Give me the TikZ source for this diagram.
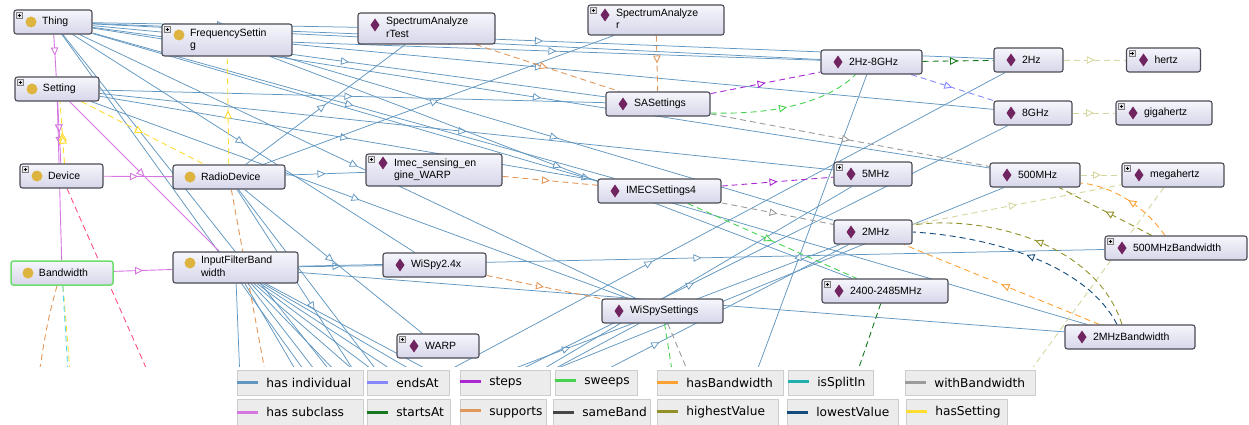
\documentclass[tikz,border=0pt]{standalone}
\usepackage{fontspec}
\setmainfont{Liberation Sans}
\newfontfamily\legfont{DejaVu Sans}
\usepackage{tikz}
\usetikzlibrary{arrows.meta,positioning,decorations.markings,backgrounds}
\definecolor{boxline}{RGB}{75,75,85}
\definecolor{boxtop}{RGB}{246,246,252}
\definecolor{boxbot}{RGB}{214,214,234}
\definecolor{clsgold}{RGB}{222,180,64}
\definecolor{indpurple}{RGB}{112,36,96}
\definecolor{bwgreen}{RGB}{110,220,110}
\definecolor{plusfill}{RGB}{225,225,230}
\definecolor{indblue}{RGB}{96,150,192}
\definecolor{subcol}{RGB}{214,118,224}
\definecolor{endcol}{RGB}{135,135,255}
\definecolor{stepcol}{RGB}{170,40,210}
\definecolor{sweepcol}{RGB}{70,210,80}
\definecolor{hasbwcol}{RGB}{255,160,50}
\definecolor{splitcol}{RGB}{30,175,175}
\definecolor{withbwcol}{RGB}{155,155,155}
\definecolor{startcol}{RGB}{20,120,30}
\definecolor{supcol}{RGB}{225,150,90}
\definecolor{samecol}{RGB}{70,70,70}
\definecolor{highcol}{RGB}{145,145,40}
\definecolor{lowcol}{RGB}{20,75,125}
\definecolor{hassetcol}{RGB}{255,220,50}
\definecolor{unitcol}{RGB}{214,214,160}
\definecolor{pinkcol}{RGB}{255,80,125}
\definecolor{cyancol}{RGB}{80,215,245}
\definecolor{legfill}{RGB}{236,236,236}
\definecolor{legedge}{RGB}{205,205,205}
\newcommand{\nodefont}{\fontsize{10.5}{12.5}\selectfont}
\newcommand{\twoline}[2]{\begin{tabular}[t]{@{}l@{}}#1\\#2\end{tabular}}
\newcommand{\swatch}[1]{\textcolor{#1}{\rule[3pt]{21pt}{3pt}}\hspace{8pt}}
\newcommand{\clsdot}[1]{\fill[clsgold] ([shift={(17pt,#1)}]path picture bounding box.west) circle (5.5pt);}
\newcommand{\inddia}[1]{\fill[indpurple, sharp corners] ([shift={(17pt,#1)}]path picture bounding box.west) ++(0pt,6.5pt) -- ++(4.5pt,-6.5pt) -- ++(-4.5pt,-6.5pt) -- ++(-4.5pt,6.5pt) -- cycle;}
\newcommand{\plusmark}{\draw[draw=gray, fill=plusfill, line width=0.4pt, sharp corners] ([shift={(2.5pt,-2.5pt)}]path picture bounding box.north west) rectangle ++(6pt,-6pt);
  \draw[black, line width=0.5pt] ([shift={(3.8pt,-5.5pt)}]path picture bounding box.north west) -- ++(3.4pt,0pt) ([shift={(5.5pt,-3.8pt)}]path picture bounding box.north west) -- ++(0pt,-3.4pt);}
\tikzstyle{onto} = [rectangle, rounded corners=2.5pt, draw=boxline, line width=1.1pt, top color=boxtop, bottom color=boxbot, inner xsep=0pt, inner ysep=2pt, minimum height=24pt, align=left, font=\nodefont, execute at begin node={\hspace*{28pt}}]
\tikzstyle{legbox} = [rectangle, fill=legfill, draw=legedge, line width=0.6pt, anchor=north west, inner xsep=0pt, inner ysep=0pt, minimum height=25pt, align=left, font=\legfont\fontsize{12.2}{14}\selectfont]
\tikzset{
  cls/.style={onto, path picture={\clsdot{#1}}}, cls/.default=0pt,
  clsx/.style={onto, path picture={\clsdot{#1}\plusmark}}, clsx/.default=0pt,
  ind/.style={onto, path picture={\inddia{#1}}}, ind/.default=0pt,
  indx/.style={onto, path picture={\inddia{#1}\plusmark}}, indx/.default=0pt,
  openarr/.style={postaction={decorate}, decoration={markings, mark=at position #1 with {\arrow{Triangle[length=8pt, width=7.5pt, fill=white]}}}},
  openarr/.default=0.5
}
\tikzstyle{hasind} = [draw=indblue, line width=0.75pt, openarr]
\tikzstyle{subcls} = [draw=subcol, line width=0.9pt, openarr]
\tikzstyle{prop} = [line width=0.9pt, dash pattern=on 6pt off 4pt, openarr]
\tikzstyle{psupports} = [prop, draw=supcol]
\tikzstyle{psteps} = [prop, draw=stepcol]
\tikzstyle{psweeps} = [prop, draw=sweepcol]
\tikzstyle{pstarts} = [prop, draw=startcol]
\tikzstyle{pends} = [prop, draw=endcol]
\tikzstyle{pwithbw} = [prop, draw=withbwcol]
\tikzstyle{phasbw} = [prop, draw=hasbwcol]
\tikzstyle{phigh} = [prop, draw=highcol]
\tikzstyle{plow} = [prop, draw=lowcol]
\tikzstyle{phasset} = [prop, draw=hassetcol]
\tikzstyle{punit} = [prop, draw=unitcol]
\tikzstyle{psplit} = [prop, draw=cyancol]
\tikzstyle{ppink} = [prop, draw=pinkcol]

\begin{document}
\begin{tikzpicture}[x=1pt, y=-1pt]
\useasboundingbox (0,0) rectangle (1249,425);

% Classes
\node (thing) [clsx, text width=78pt] at (53,22) {Thing};
\node (freq) [clsx=5pt, text width=130pt, minimum height=32pt] at (227,40) {\twoline{FrequencySettin}{g}};
\node (setting) [clsx, text width=84pt] at (57,89) {Setting};
\node (device) [clsx, text width=83pt] at (61.5,176) {Device};
\node (radio) [cls, text width=112pt] at (229,177) {RadioDevice};
\node (bandwidth) [cls, draw=bwgreen, line width=1.5pt, text width=102pt] at (62,273) {Bandwidth};
\node (ifbw) [cls=4.5pt, text width=125pt, minimum height=31pt] at (235.5,267.5) {\twoline{InputFilterBand}{width}};

% Individuals
\node (satest) [ind=3.5pt, text width=137pt, minimum height=31pt] at (426.5,28.5) {\twoline{SpectrumAnalyze}{rTest}};
\node (sa) [indx=5pt, text width=136pt, minimum height=30pt] at (656,20) {\twoline{SpectrumAnalyze}{r}};
\node (imecwarp) [indx=7pt, text width=136pt, minimum height=32pt] at (434,170) {\twoline{Imec\_sensing\_en}{gine\_WARP}};
\node (saset) [ind, text width=104pt] at (658,104) {SASettings};
\node (imec4) [ind, text width=123pt] at (659.5,191) {IMECSettings4};
\node (hz2to8) [ind, text width=101pt] at (871.5,62) {2Hz-8GHz};
\node (hz2) [ind, text width=69pt] at (1028.5,60) {2Hz};
\node (hertz) [indx, text width=74pt, right of=hz2, node distance=135pt] {hertz};
\node (ghz8) [ind, text width=78pt] at (1033,113) {8GHz};
\node (gigahertz) [indx, text width=96pt, right of=ghz8, node distance=131pt] {gigahertz};
\node (mhz5) [indx, text width=78pt] at (873,174) {5MHz};
\node (mhz500) [ind, text width=90pt] at (1035,175) {500MHz};
\node (megahertz) [indx, text width=102pt, right of=mhz500, node distance=138pt] {megahertz};
\node (mhz2) [ind, text width=78pt] at (873,232) {2MHz};
\node (bw500) [indx, text width=142pt] at (1176,248) {500MHzBandwidth};
\node (band2400) [indx, text width=126pt] at (885,291) {2400-2485MHz};
\node (bw2) [ind, text width=130pt] at (1130,337) {2MHzBandwidth};
\node (wispy) [ind, text width=103pt] at (434.5,265) {WiSpy2.4x};
\node (wispyset) [ind, text width=121pt] at (662.5,311) {WiSpySettings};
\node (warp) [indx, text width=82pt] at (438,346) {WARP};

\begin{scope}[on background layer]
\clip (0,0) rectangle (1249,366);
% ends below the visible part
\coordinate (thlow1) at (585,760);
\coordinate (thlow2) at (639,760);
\coordinate (radlow0) at (311,620);
\coordinate (radlow1) at (392,430);
\coordinate (radlow2) at (552,600);
\coordinate (devlow) at (266,640);
\coordinate (bwlow1) at (18,520);
\coordinate (bwlow2) at (82,520);
\coordinate (bwlow3) at (77,520);
\coordinate (iflow0) at (244,480);
\coordinate (iflow1) at (360,480);
\coordinate (iflow2) at (400,480);
\coordinate (iflow3) at (440,480);
\coordinate (iflow4) at (480,480);
\coordinate (iflow5) at (520,480);
\coordinate (iflow6) at (560,480);
\coordinate (iflow7) at (600,480);
\coordinate (iflow8) at (635,480);
\coordinate (srcA) at (300,450);
\coordinate (srcB) at (380,440);
\coordinate (srcC) at (440,430);
\coordinate (srcD) at (470,440);
\coordinate (srcR) at (735,430);
\coordinate (swlow) at (696,520);
\coordinate (wblow) at (750,520);
\coordinate (stlow) at (807,520);
\coordinate (unlow) at (849,620);

% has individual
\draw[hasind] (thing) -- (satest);
\draw[hasind] (thing) -- (hz2to8);
\draw[hasind] (thing) -- (hz2);
\draw[hasind] (thing) -- (saset);
\draw[hasind] (thing) -- (ghz8);
\draw[hasind] (thing) -- (mhz500);
\draw[hasind] (thing) -- (imec4);
\draw[hasind] (thing) -- (bw2);
\draw[hasind] (thing) -- (wispy);
\draw[hasind] (thing) -- (wispyset);
\draw[hasind] (thing) -- (thlow1);
\draw[hasind] (thing) -- (thlow2);
\draw[hasind] (setting) -- (saset);
\draw[hasind] (setting) -- (imec4);
\draw[hasind] (setting) -- (mhz5);
\draw[hasind] (setting) -- (wispyset);
\draw[hasind] (freq) -- (hz2to8);
\draw[hasind] (freq) -- (mhz2);
\draw[hasind] (freq) -- (band2400);
\draw[hasind] (radio) -- (satest);
\draw[hasind] (radio) -- (sa);
\draw[hasind] (radio) -- (imecwarp);
\draw[hasind] (radio) -- (warp);
\draw[hasind] (radio) -- (radlow1);
\draw[hasind] (radio) -- (radlow2);
\draw[hasind] (ifbw) -- (wispy);
\draw[hasind] (ifbw) -- (bw500);
\draw[hasind] (ifbw) -- (bw2);
\draw[hasind] (ifbw) -- (iflow0);
\draw[hasind] (ifbw) -- (iflow1);
\draw[hasind] (ifbw) -- (iflow2);
\draw[hasind] (ifbw) -- (iflow3);
\draw[hasind] (ifbw) -- (iflow4);
\draw[hasind] (ifbw) -- (iflow5);
\draw[hasind] (ifbw) -- (iflow6);
\draw[hasind] (ifbw) -- (iflow7);
\draw[hasind] (ifbw) -- (iflow8);
\draw[hasind] (srcA) -- (hz2);
\draw[hasind] (srcA) -- (mhz2);
\draw[hasind] (srcB) -- (ghz8);
\draw[hasind] (srcB) -- (mhz500);
\draw[hasind] (srcC) -- (mhz5);
\draw[hasind] (srcC) -- (wispyset);
\draw[hasind] (srcD) -- (mhz2);
\draw[hasind] (srcR) -- (hz2to8);

% has subclass
\draw[subcls] (thing) -- (setting);
\draw[subcls, openarr=0.7] (setting) -- (device);
\draw[subcls] (setting) -- (bandwidth);
\draw[subcls] (device) -- (radio);
\draw[subcls] (setting) -- (ifbw);
\draw[subcls] (bandwidth) -- (ifbw);

% object properties
\draw[phasset, openarr=0.45] ([xshift=3pt]device.north) -- ([xshift=3pt]setting.south);
\draw[phasset] (radio) -- (freq);
\draw[phasset] (setting) -- (radio);
\draw[phasset] (bandwidth) -- (bwlow2);
\draw[psplit] (bandwidth) -- (bwlow3);
\draw[ppink] (device) -- (devlow);
\draw[psupports] ([xshift=-5pt]bandwidth.south) .. controls (45,330) .. (bwlow1);
\draw[psupports] (radio) -- (radlow0);
\draw[psupports] (satest) -- (saset);
\draw[psupports] (sa) -- (saset);
\draw[psupports] (imecwarp) -- (imec4);
\draw[psupports] (wispy) -- (wispyset);
\draw[psteps] (saset) -- (hz2to8);
\draw[psteps] (imec4) -- (mhz5);
\draw[psweeps] ([yshift=-9pt]saset.east) .. controls (780,115) and (830,100) .. ([xshift=-16pt]hz2to8.south);
\draw[psweeps] (imec4) -- (band2400);
\draw[psweeps] (wispyset) -- (swlow);
\draw[pstarts] (hz2to8) -- (hz2);
\draw[pstarts] (band2400) -- (stlow);
\draw[pends] (hz2to8) -- (ghz8);
\draw[pwithbw] (saset) -- (mhz500);
\draw[pwithbw] (imec4) -- (mhz2);
\draw[pwithbw] (wispyset) -- (wblow);
\draw[punit] (hz2) -- (hertz);
\draw[punit] (ghz8) -- (gigahertz);
\draw[punit] (mhz500) -- (megahertz);
\draw[punit] (mhz2) -- (megahertz);
\draw[punit] (megahertz) -- (unlow);
\draw[phigh] (bw500) -- (mhz500);
\draw[phigh] ([xshift=-8pt]bw2.north) .. controls (1095,240) and (980,215) .. ([yshift=7pt]mhz2.east);
\draw[plow] ([xshift=-13pt]bw2.north) .. controls (1085,262) and (985,236) .. (mhz2.east);
\draw[phasbw] (bw2) -- (mhz2);
\draw[phasbw] ([xshift=-11pt]bw500.north) .. controls (1140,200) and (1105,185) .. ([yshift=-8pt]mhz500.east);
\end{scope}

% Legend
\node (lhasind) [legbox, text width=126pt] at (237,370) {\swatch{indblue}has individual};
\node (lends) [legbox, text width=82pt] at (367,370) {\swatch{endcol}endsAt};
\node (lsteps) [legbox, text width=90pt] at (460,370) {\swatch{stepcol}steps};
\node (lsweeps) [legbox, text width=82pt] at (555,370) {\swatch{sweepcol}sweeps};
\node (lhasbw) [legbox, text width=126pt] at (657,370) {\swatch{hasbwcol}hasBandwidth};
\node (lsplit) [legbox, text width=85pt] at (788,370) {\swatch{splitcol}isSplitIn};
\node (lwithbw) [legbox, text width=130pt] at (905,370) {\swatch{withbwcol}withBandwidth};
\node (lsubcls) [legbox, text width=126pt, minimum height=26pt] at (237,399) {\swatch{subcol}has subclass};
\node (lstarts) [legbox, text width=83pt, minimum height=26pt] at (367,399) {\swatch{startcol}startsAt};
\node (lsupports) [legbox, text width=86pt, minimum height=26pt] at (460,399) {\swatch{supcol}supports};
\node (lsame) [legbox, text width=97pt, minimum height=26pt] at (553,399) {\swatch{samecol}sameBand};
\node (lhigh) [legbox, text width=121pt, minimum height=26pt] at (657,399) {\swatch{highcol}highestValue};
\node (llow) [legbox, text width=111pt, minimum height=26pt] at (787,399) {\swatch{lowcol}lowestValue};
\node (lhasset) [legbox, text width=101pt, minimum height=26pt] at (906,399) {\swatch{hassetcol}hasSetting};
\end{tikzpicture}
\end{document}
